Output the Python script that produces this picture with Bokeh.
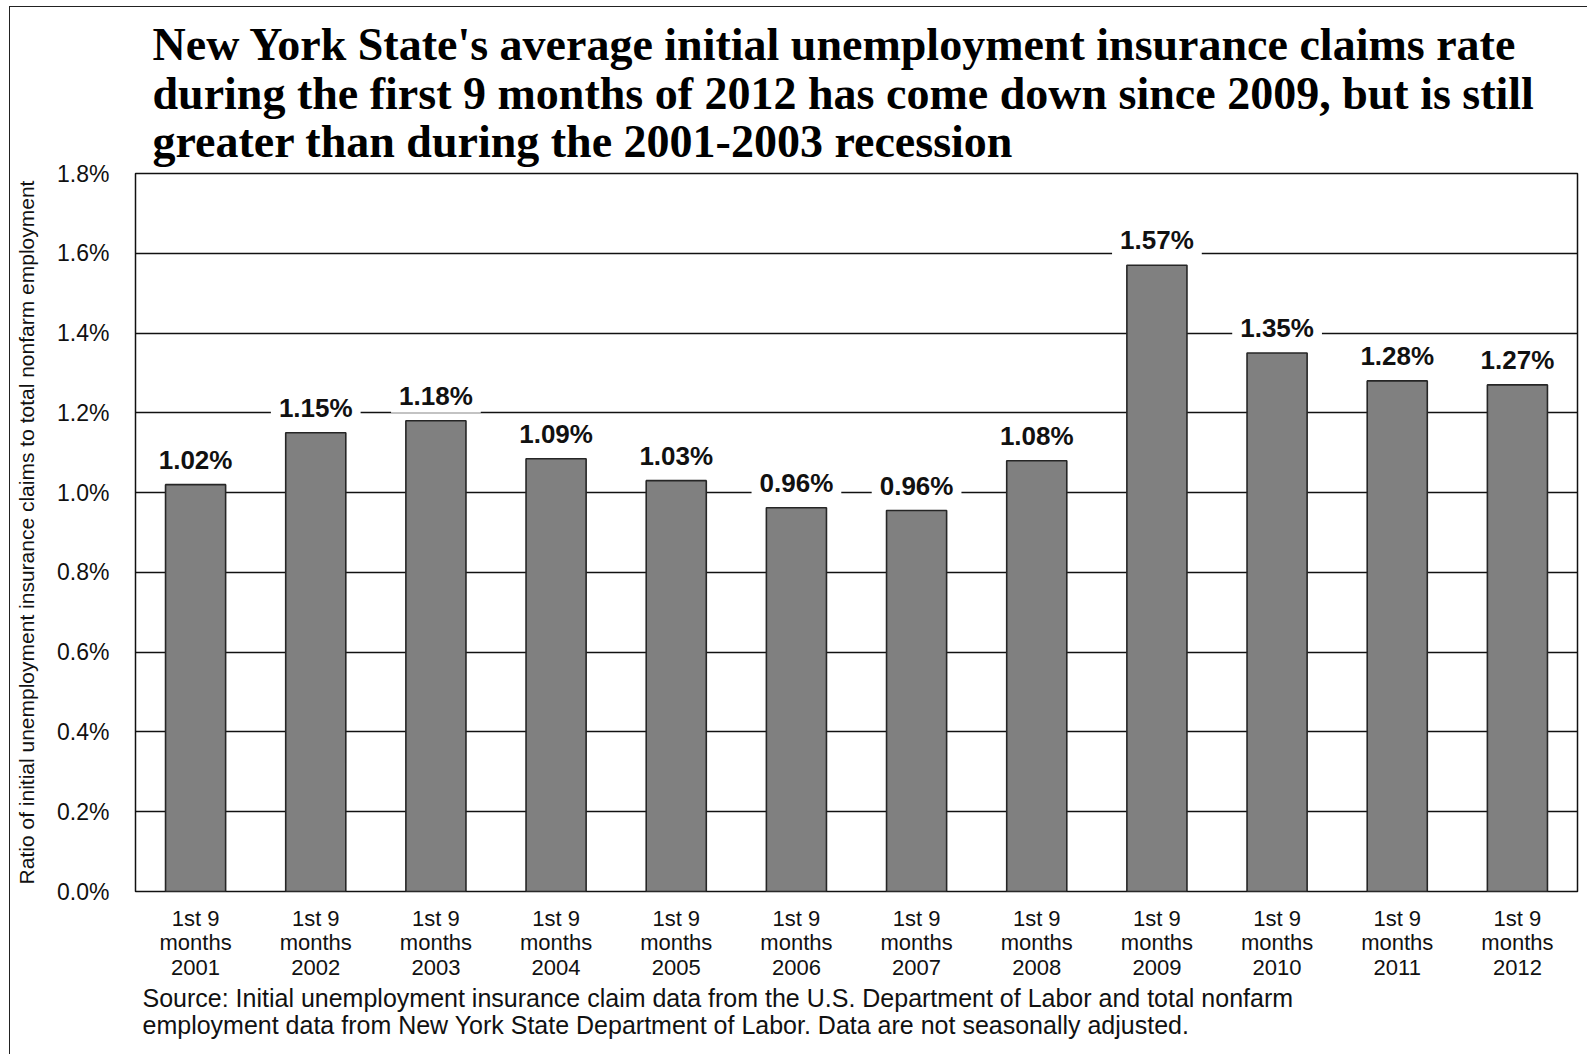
from bokeh.plotting import figure
from bokeh.models import (ColumnDataSource, FixedTicker, PrintfTickFormatter,
                          Label, Title, InlineStyleSheet)
from bokeh.embed import file_html
from bokeh.resources import INLINE

years = ["2001", "2002", "2003", "2004", "2005", "2006", "2007", "2008",
         "2009", "2010", "2011", "2012"]
rates = [1.02, 1.15, 1.18, 1.085, 1.03, 0.962, 0.955, 1.08, 1.57, 1.35, 1.28, 1.27]
rate_labels = ["1.02%", "1.15%", "1.18%", "1.09%", "1.03%", "0.96%", "0.96%",
               "1.08%", "1.57%", "1.35%", "1.28%", "1.27%"]
y_ticks = [0.0, 0.2, 0.4, 0.6, 0.8, 1.0, 1.2, 1.4, 1.6, 1.8]
title_lines = [
    "New York State's average initial unemployment insurance claims rate",
    "during the first 9 months of 2012 has come down since 2009, but is still",
    "greater than during the 2001-2003 recession",
]
source_lines = [
    "Source:  Initial unemployment insurance claim data from the U.S. Department of Labor and total nonfarm",
    "employment data from New York State Department of Labor.  Data are not seasonally  adjusted.",
]
y_title = "Ratio of initial unemployment insurance claims to total nonfarm employment"

SANS = "Liberation Sans"
SERIF = "Liberation Serif"

categories = ["1st 9\nmonths\n" + y for y in years]
src = ColumnDataSource(dict(cat=categories, rate=rates))

p = figure(width=1587, height=1054, x_range=categories, y_range=(0, 1.8),
           output_backend="svg", toolbar_location=None,
           min_border_left=135, min_border_right=10,
           min_border_top=173, min_border_bottom=163)

p.vbar(x="cat", top="rate", width=0.5, source=src,
       fill_color="#808080", line_color="#262626", line_width=1.6)

# axes
p.yaxis.ticker = FixedTicker(ticks=y_ticks)
p.yaxis.formatter = PrintfTickFormatter(format="%.1f%%")
p.yaxis.major_label_text_font = SANS
p.yaxis.major_label_text_font_size = "23px"
p.yaxis.major_label_text_color = "#111111"
p.yaxis.major_label_standoff = 26
p.yaxis.axis_label = y_title
p.yaxis.axis_label_text_font = SANS
p.yaxis.axis_label_text_font_size = "21px"
p.yaxis.axis_label_text_font_style = "normal"
p.yaxis.axis_label_text_color = "#111111"
p.yaxis.axis_label_standoff = 16

p.xaxis.major_label_text_font = SANS
p.xaxis.major_label_text_font_size = "22px"
p.xaxis.major_label_text_color = "#111111"
p.xaxis.major_label_text_line_height = 0.99
p.xaxis.major_label_standoff = 14

for ax in (p.xaxis[0], p.yaxis[0]):
    ax.axis_line_color = None
    ax.major_tick_line_color = None
    ax.minor_tick_line_color = None
    ax.major_tick_out = 0
    ax.major_tick_in = 0
    ax.minor_tick_out = 0
    ax.minor_tick_in = 0

p.xgrid.grid_line_color = None
p.ygrid.grid_line_color = "#111111"
p.ygrid.grid_line_width = 1.3
p.outline_line_color = "#111111"
p.outline_line_width = 1.5
p.background_fill_color = "white"

# value labels above bars
for i, (v, t) in enumerate(zip(rates, rate_labels)):
    p.add_layout(Label(x=i + 0.5, y=v, text=t, text_align="center",
                       text_baseline="middle", y_offset=25,
                       text_font=SANS, text_font_size="26px",
                       text_font_style="bold", text_color="#111111",
                       background_fill_color="white",
                       padding=dict(left=8, right=8, top=2, bottom=2)))

# title
p.title.text = "\n".join(title_lines)
p.title.align = "left"
p.title.offset = 17
p.title.text_font = SERIF
p.title.text_font_size = "46px"
p.title.text_font_style = "bold"
p.title.text_color = "black"
p.title.text_line_height = 0.96
p.title.standoff = 12

# source note
p.add_layout(Title(text="\n".join(source_lines), align="left", offset=7,
                   text_font=SANS, text_font_size="25px",
                   text_font_style="normal", text_color="#111111",
                   text_line_height=0.975, standoff=-2), "below")

# outer border of the image (left and top edges)
p.stylesheets = [InlineStyleSheet(css=(
    ":host::after{content:'';position:absolute;left:9px;top:6px;right:-4px;"
    "bottom:-4px;border-left:1.5px solid #222;border-top:1.5px solid #222;"
    "pointer-events:none;}"))]

open("out.html", "w").write(file_html(p, INLINE))
